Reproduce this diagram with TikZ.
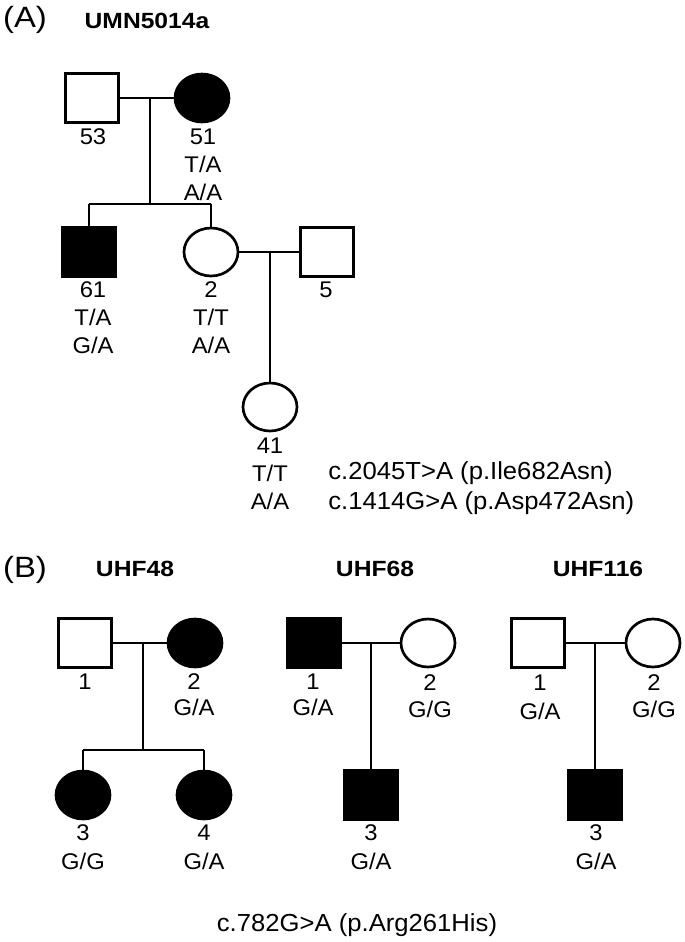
\documentclass[tikz,border=0pt]{standalone}
\usepackage{fontspec}
\setmainfont{Liberation Sans}
\newfontfamily\lblfont[FakeStretch=1.05]{Liberation Sans}
\newfontfamily\ttlfont[FakeStretch=1.12]{Liberation Sans}
\newfontfamily\mutfont[FakeStretch=1.04]{Liberation Sans}
\usetikzlibrary{shapes.geometric}
\begin{document}
\begin{tikzpicture}[x=0.75pt,y=-0.75pt,line width=2pt,
    male/.style={draw,rectangle,inner sep=0pt,minimum width=39.5pt,minimum height=36.5pt},
    female/.style={draw,ellipse,inner sep=0pt,minimum width=40.5pt,minimum height=36pt},
    sick/.style={fill=black},
    lbl/.style={align=center,inner sep=0pt,font=\lblfont\fontsize{17}{21}\selectfont},
    ttl/.style={inner sep=0pt,font=\ttlfont\bfseries\fontsize{16.5}{18}\selectfont},
    pnl/.style={inner sep=0pt,font=\ttlfont\fontsize{22}{24}\selectfont},
    mut/.style={align=left,inner sep=0pt,font=\mutfont\fontsize{18.5}{22.5}\selectfont}]
        \useasboundingbox (0,0) rectangle (685,942);
        \node[pnl] (pA) at (25,20) {(A)};
        \node[ttl] (tA) at (147,21) {UMN5014a};
        \node[male] (m53) at (92,98) {};
        \node[female,sick] (f51) at (202,98) {};
        \node[male,sick] (m61) at (89,252) {};
        \node[female] (f2) at (211,252) {};
        \node[male] (m5) at (327,252) {};
        \node[female] (f41) at (270,407) {};
        \coordinate (c51) at (150,98);
        \coordinate (s51) at (150,204);
        \coordinate (s61) at (89,204);
        \coordinate (s2) at (211,204);
        \coordinate (c2) at (270,252);
        \draw (m53) -- (f51);
        \draw (c51) -- (s51);
        \draw (s61) -- (s2);
        \draw (s61) -- (m61);
        \draw (s2) -- (f2);
        \draw (f2) -- (m5);
        \draw (c2) -- (f41);
        \node[lbl] (l53) at (93,137) {53};
        \node[lbl] (l51) at (203,165) {51\\T/A\\A/A};
        \node[lbl] (l61) at (93,318) {61\\T/A\\G/A};
        \node[lbl] (l2) at (211,318) {2\\T/T\\A/A};
        \node[lbl] (l5) at (326,290) {5};
        \node[lbl] (l41) at (270,474) {41\\T/T\\A/A};
        \node[mut,anchor=west] (mA) at (327,488) {c.2045T>A (p.Ile682Asn)\\c.1414G>A (p.Asp472Asn)};
        \node[pnl] (pB) at (25,570) {(B)};
        \node[ttl] (t48) at (135,569) {UHF48};
        \node[ttl] (t68) at (375,569) {UHF68};
        \node[ttl] (t116) at (598,569) {UHF116};
        \node[male] (a1) at (85,643) {};
        \node[female,sick] (a2) at (195,643) {};
        \node[female,sick] (a3) at (83,795) {};
        \node[female,sick] (a4) at (204,795) {};
        \coordinate (ca) at (143,643);
        \coordinate (sa) at (143,750);
        \coordinate (sa3) at (83,750);
        \coordinate (sa4) at (204,750);
        \draw (a1) -- (a2);
        \draw (ca) -- (sa);
        \draw (sa3) -- (sa4);
        \draw (sa3) -- (a3);
        \draw (sa4) -- (a4);
        \node[male,sick] (b1) at (314,643) {};
        \node[female] (b2) at (428,643) {};
        \node[male,sick] (b3) at (371,795) {};
        \coordinate (cb) at (371,643);
        \draw (b1) -- (b2);
        \draw (cb) -- (b3);
        \node[male] (d1) at (538,643) {};
        \node[female] (d2) at (653,643) {};
        \node[male,sick] (d3) at (595,795) {};
        \coordinate (cd) at (595,643);
        \draw (d1) -- (d2);
        \draw (cd) -- (d3);
        \node[lbl] (la1) at (85,682) {1};
        \node[lbl,font=\lblfont\fontsize{17}{19.5}\selectfont] (la2) at (194,695) {2\\G/A};
        \node[lbl,font=\lblfont\fontsize{17}{21.75}\selectfont] (la3) at (83,847) {3\\G/G};
        \node[lbl,font=\lblfont\fontsize{17}{21.75}\selectfont] (la4) at (204,847) {4\\G/A};
        \node[lbl,font=\lblfont\fontsize{17}{19.5}\selectfont] (lb1) at (313,695) {1\\G/A};
        \node[lbl,font=\lblfont\fontsize{17}{20.5}\selectfont] (lb2) at (430,696) {2\\G/G};
        \node[lbl,font=\lblfont\fontsize{17}{21.75}\selectfont] (lb3) at (371,847) {3\\G/A};
        \node[lbl,font=\lblfont\fontsize{17}{22}\selectfont] (ld1) at (540,697) {1\\G/A};
        \node[lbl,font=\lblfont\fontsize{17}{20.5}\selectfont] (ld2) at (654,696) {2\\G/G};
        \node[lbl,font=\lblfont\fontsize{17}{21.75}\selectfont] (ld3) at (596,847) {3\\G/A};
        \node[mut] (mB) at (357,925) {c.782G>A (p.Arg261His)};
\end{tikzpicture}
\end{document}
